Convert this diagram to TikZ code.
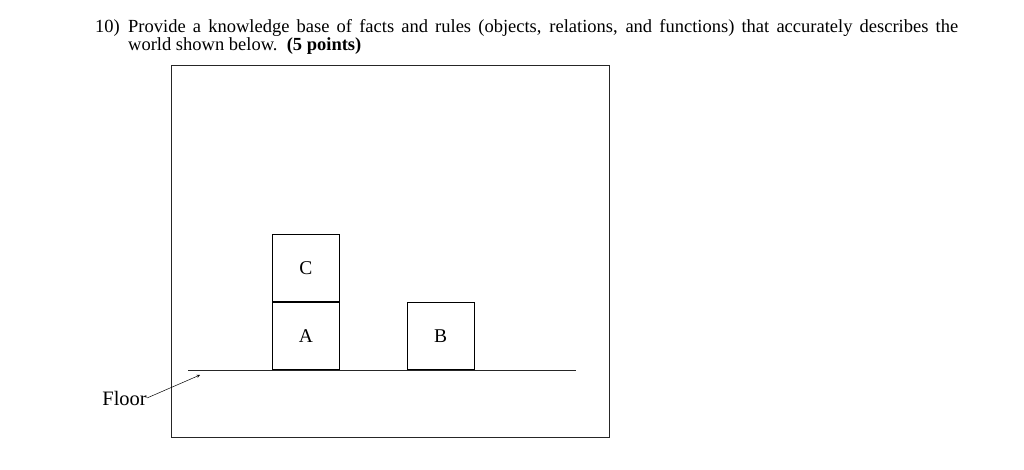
\documentclass[tikz,border=0pt]{standalone}
\usepackage{fontspec}
\setmainfont{Liberation Serif}
\usetikzlibrary{positioning}

\begin{document}
\begin{tikzpicture}[
        x=1pt, y=1pt,
        node distance=0pt and 67pt,
        every node/.style={inner sep=0pt},
        block/.style={draw, line width=0.8pt, minimum width=67pt, minimum height=67pt, font=\fontsize{19.5}{19.5}\selectfont},
        frame/.style={draw, line width=0.8pt, black!85},
        floorline/.style={line width=0.8pt, black!85},
        arrow/.style={->, >=stealth, line width=0.5pt}
    ]
    \useasboundingbox (0,0) rectangle (1024,-470);

    % Question -----------------------------------------------
    \node[anchor=base west] (num) at (95,-33) {\fontsize{18.5}{18}\selectfont 10)};
    \node[anchor=base west, text width=830pt, align=justify] (question) at (128,-33)
        {\fontsize{18.5}{18}\selectfont Provide a knowledge base of facts and rules (objects, relations, and functions) that accurately describes the\linebreak
         world shown below.\ \ \textbf{(5 points)}\hfill\null};

    % World --------------------------------------------------
    \draw[frame] (171,-65) rectangle (609,-437);
    \coordinate (floorL) at (188,-370);
    \coordinate (floorR) at (576,-370);
    \draw[floorline] (floorL) -- (floorR);

    \node[block, anchor=south west] (A) at (272,-370) {A};
    \node[block, above=of A] (C) {C};
    \node[block, right=of A] (B) {B};

    % Floor label
    \node[anchor=east, font=\fontsize{20.5}{20.5}\selectfont] (floor) at (147,-398) {Floor};
    \coordinate (floortip) at (200,-375);
    \draw[arrow] (floor.east) -- (floortip);
\end{tikzpicture}
\end{document}
